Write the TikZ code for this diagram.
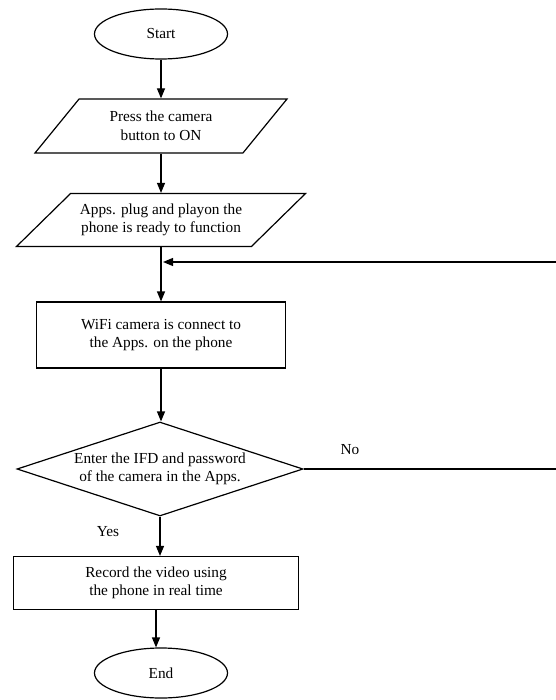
\documentclass[tikz,border=0pt]{standalone}
\usepackage{fontspec}
\setmainfont{Liberation Serif}
\usetikzlibrary{shapes.geometric,arrows.meta}

\begin{document}
\begin{tikzpicture}[x=1pt,y=-1pt,line width=1.2pt,>={Triangle[length=10pt,width=8pt]},font=\fontsize{15.3}{18.5}\selectfont]
\tikzstyle{terminal}=[ellipse,draw,minimum width=133pt,minimum height=50pt,inner sep=0pt]
\tikzstyle{io}=[trapezium,draw,trapezium stretches body,inner xsep=0pt,inner ysep=9pt,align=center]
\tikzstyle{process}=[rectangle,draw,inner sep=0pt,align=center]
\tikzstyle{decision}=[diamond,draw,shape aspect=3.04,inner sep=0pt,align=center,minimum width=286pt,minimum height=94pt]
\tikzstyle{annot}=[inner sep=0pt]

\useasboundingbox (0,0) rectangle (555,700);

% Draw the flow nodes
\node[terminal] (start) at (161,34) {Start};
\node[io, trapezium left angle=47, trapezium right angle=133, minimum width=252pt, minimum height=54pt] (press) at (161,126) {Press the camera\\button to ON};
\node[io, trapezium left angle=43, trapezium right angle=137, minimum width=289pt, minimum height=53pt] (apps) at (161,220) {Apps. plug and playon the\\phone is ready to function};
\node[process, minimum width=249pt, minimum height=66pt] (wifi) at (161,335) {WiFi camera is connect to\\the Apps. on the phone};
\node[decision] (enter) at (160,469) {Enter the IFD and password\\of the camera in the Apps.};
\node[process, minimum width=285pt, minimum height=53pt] (record) at (156,583) {Record the video using\\the phone in real time};
\node[terminal] (stop) at (161,673) {End};

% Annotate the branches
\node[annot] (no) at (350,450) {No};
\node[annot] (yes) at (108,532) {Yes};

% Connect each step with the next one
\foreach \src/\dst in {start/press, press/apps, apps/wifi, wifi/enter, enter/record, record/stop}
\draw[->] (\src.south) -- (\src.south |- \dst.north);

% Loop back when the login fails
\coordinate (edge) at (557,262);
\coordinate (back) at (163,262);
\draw[->] (enter.east) -| (edge) -- (back);
\end{tikzpicture}
\end{document}
